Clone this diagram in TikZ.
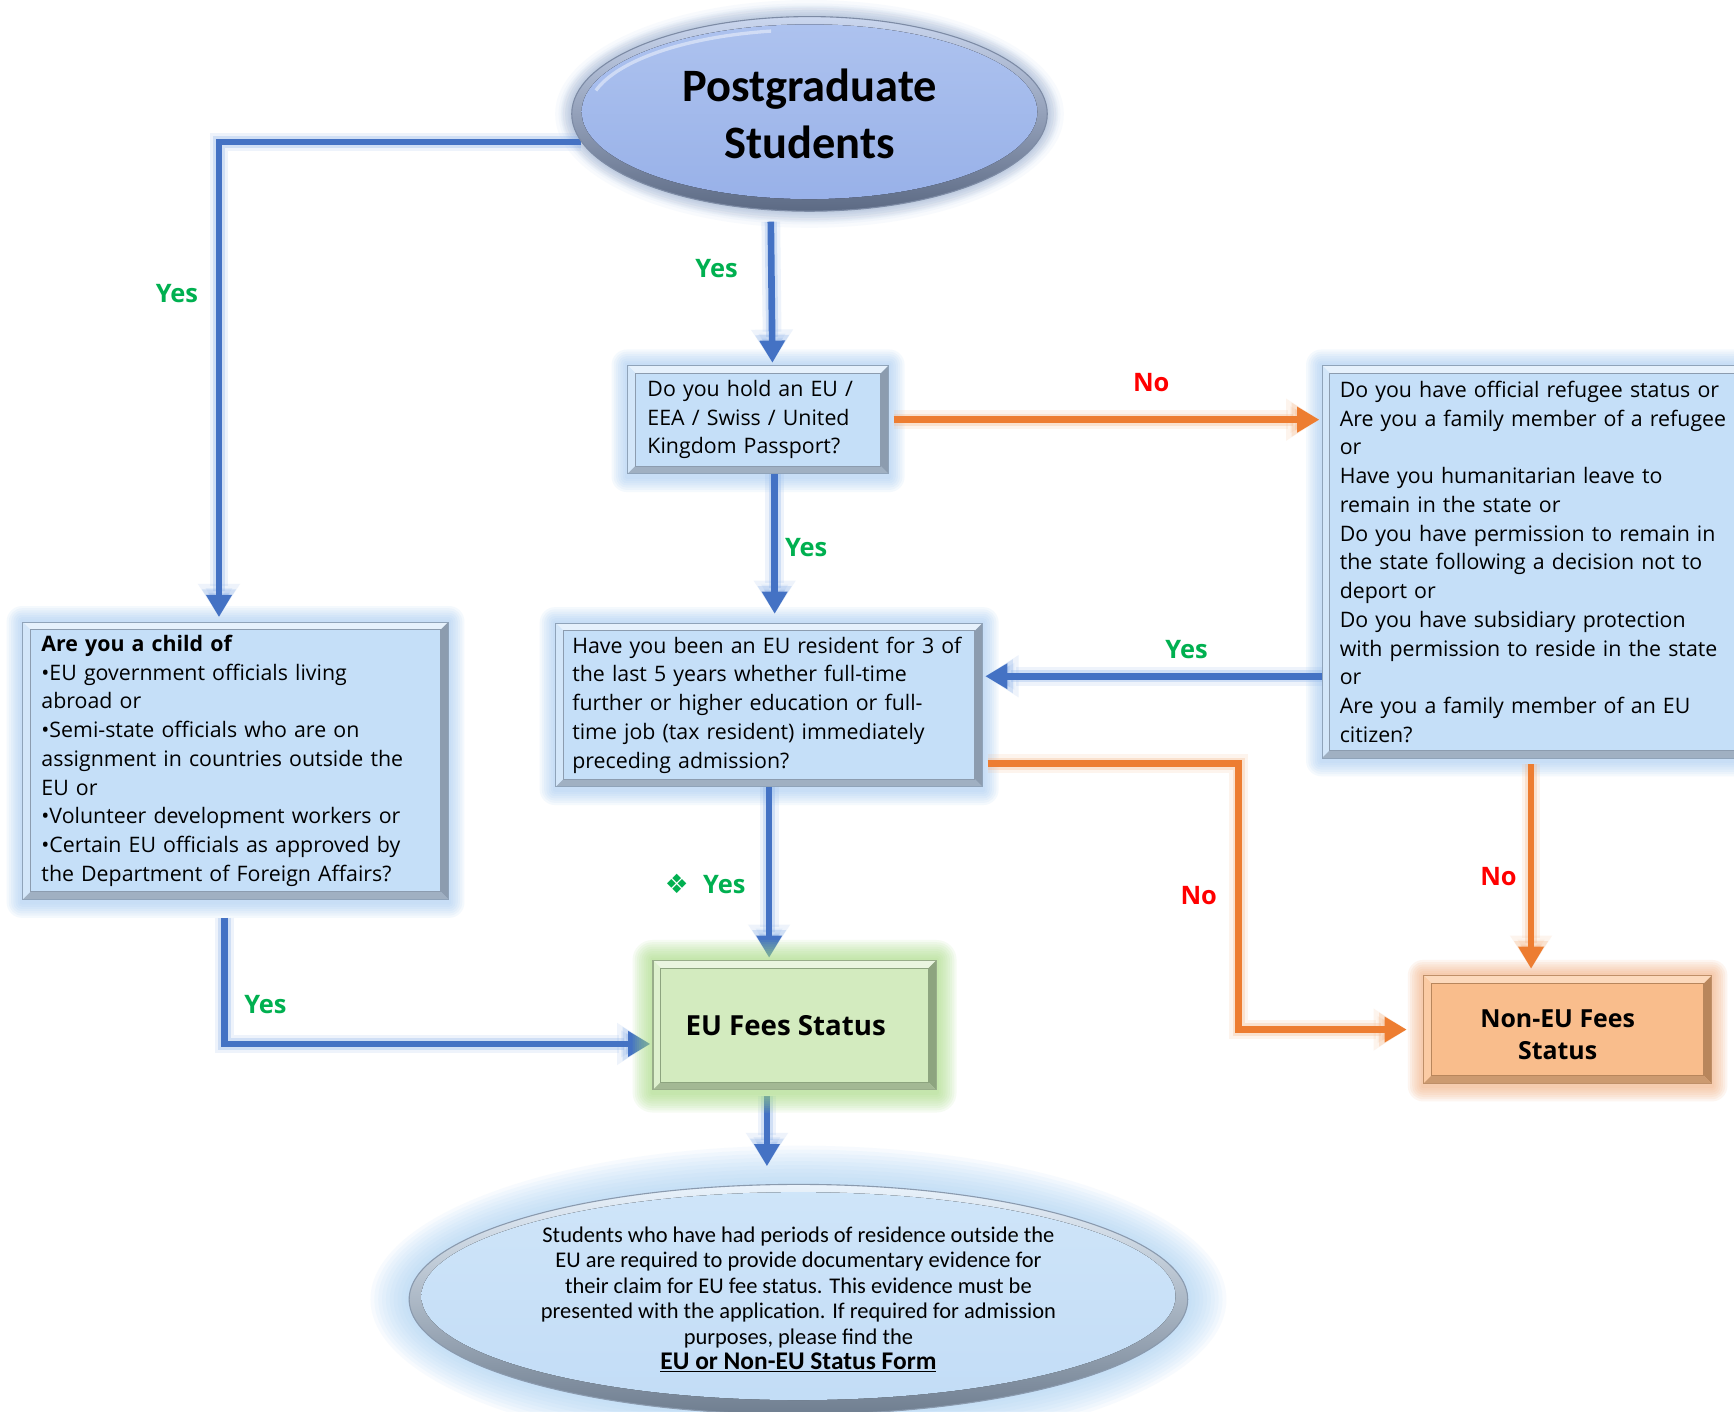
\documentclass[tikz,border=0pt]{standalone}
\usepackage{fontspec}
\setmainfont{Open Sans}
\newfontfamily\titlefont{Carlito}
\newfontfamily\symfont{DejaVu Sans}
\usetikzlibrary{shapes.geometric,arrows.meta,calc}
\pgfdeclarelayer{bg}\pgfdeclarelayer{arrowlayer}\pgfdeclarelayer{glowlayer}
\pgfsetlayers{bg,arrowlayer,glowlayer,main}

\definecolor{arrowblue}{HTML}{4472C4}
\definecolor{glowblue}{HTML}{8DB3EA}
\definecolor{arroworange}{HTML}{ED7D31}
\definecolor{gloworange}{HTML}{F6B98C}
\definecolor{yesgreen}{HTML}{00B050}
\definecolor{nored}{HTML}{FF0000}
\definecolor{boxface}{HTML}{C5DFF8}
\definecolor{boxlight}{HTML}{E6F1FC}
\definecolor{boxmid}{HTML}{D3E6F9}
\definecolor{boxdark}{HTML}{8C9CAF}
\definecolor{boxdarkb}{HTML}{A0B0C2}
\definecolor{boxedge}{HTML}{8FA3B9}
\definecolor{boxglow}{HTML}{9CC6F2}
\definecolor{euface}{HTML}{D3EBBF}
\definecolor{eulight}{HTML}{EAF5E0}
\definecolor{eumid}{HTML}{DDF0CE}
\definecolor{eudark}{HTML}{8DA47F}
\definecolor{eudarkb}{HTML}{A3B894}
\definecolor{euedge}{HTML}{98AD8A}
\definecolor{euglow}{HTML}{A6DC80}
\definecolor{nface}{HTML}{F9BD8C}
\definecolor{nlight}{HTML}{FCD9BC}
\definecolor{nmid}{HTML}{FBCBA4}
\definecolor{ndark}{HTML}{B8865C}
\definecolor{ndarkb}{HTML}{CC9A70}
\definecolor{nedge}{HTML}{BF8F68}
\definecolor{nglow}{HTML}{F2A46C}
\definecolor{ellTop}{HTML}{CBD7EF}
\definecolor{ellBot}{HTML}{5C6A84}
\definecolor{ellEdge}{HTML}{7D8BA5}
\definecolor{innerTop}{HTML}{AEC3EF}
\definecolor{innerBot}{HTML}{97B0E8}
\definecolor{bellTop}{HTML}{EAF3FC}
\definecolor{bellBot}{HTML}{6F7E90}
\definecolor{bellEdge}{HTML}{8A9AAE}
\definecolor{binTop}{HTML}{CFE5F9}
\definecolor{binBot}{HTML}{C2DCF6}
\definecolor{bellglow}{HTML}{A9D1F6}

\newcommand{\bevelfacets}[4]{%
  \coordinate (bNW) at (path picture bounding box.north west);
  \coordinate (bNE) at (path picture bounding box.north east);
  \coordinate (bSW) at (path picture bounding box.south west);
  \coordinate (bSE) at (path picture bounding box.south east);
  \fill[#1] (bNW) -- (bNE) -- ([shift={(-7pt,-7pt)}]bNE) -- ([shift={(7pt,-7pt)}]bNW) -- cycle;
  \fill[#2] (bNW) -- (bSW) -- ([shift={(7pt,7pt)}]bSW) -- ([shift={(7pt,-7pt)}]bNW) -- cycle;
  \fill[#3] (bNE) -- (bSE) -- ([shift={(-7pt,7pt)}]bSE) -- ([shift={(-7pt,-7pt)}]bNE) -- cycle;
  \fill[#4] (bSW) -- (bSE) -- ([shift={(-7pt,7pt)}]bSE) -- ([shift={(7pt,7pt)}]bSW) -- cycle;
  \draw[#3, line width=0.8pt] ([shift={(7pt,-7pt)}]bNW) rectangle ([shift={(-7pt,7pt)}]bSE);
}
\newcommand{\boxglow}[3]{%
  \foreach \g in {1,...,#3}{%
    \pgfmathsetmacro{\gd}{2*\g}
    \fill[#2, opacity=0.10, rounded corners=\gd pt] ([shift={(-\gd pt,\gd pt)}]#1.north west) rectangle ([shift={(\gd pt,-\gd pt-2pt)}]#1.south east);
  }}
\newcommand{\ellglow}[7]{%
  \foreach \g in {1,...,#5}{%
    \pgfmathsetmacro{\gd}{#7*\g}
    \fill[#2, opacity=#6] (#1.center) ellipse [x radius=#3pt+\gd pt, y radius=#4pt+\gd pt];
  }}

\tikzset{
  qbox/.style={rectangle, anchor=north west, fill=boxface, draw=boxedge, line width=1pt,
    inner ysep=0pt, align=left, font=\fontsize{19.3}{26}\selectfont,
    path picture={\bevelfacets{boxlight}{boxmid}{boxdark}{boxdarkb}}},
  eubox/.style={rectangle, anchor=north west, fill=euface, draw=euedge, line width=1pt,
    inner sep=0pt, align=center, font=\bfseries\fontsize{25}{30}\selectfont,
    path picture={\bevelfacets{eulight}{eumid}{eudark}{eudarkb}}},
  nbox/.style={rectangle, anchor=north west, fill=nface, draw=nedge, line width=1pt,
    inner sep=0pt, align=center, font=\bfseries\fontsize{22.5}{29}\selectfont,
    path picture={\bevelfacets{nlight}{nmid}{ndark}{ndarkb}}},
  topell/.style={ellipse, minimum width=430pt, minimum height=176pt, inner sep=0pt,
    draw=ellEdge, line width=1pt, top color=ellTop, bottom color=ellBot, align=center,
    font=\titlefont\bfseries\fontsize{42}{52}\selectfont,
    path picture={\fill[top color=innerTop, bottom color=innerBot] ([yshift=2pt]path picture bounding box.center) ellipse [x radius=206pt, y radius=79pt];
      \draw[white, opacity=0.45, line width=3pt] ([shift={(-34.7pt,74.9pt)}]path picture bounding box.center) arc [start angle=100, end angle=165, x radius=200pt, y radius=74pt];}},
  botell/.style={ellipse, minimum width=704pt, minimum height=208pt, inner sep=0pt,
    draw=bellEdge, line width=1pt, top color=bellTop, bottom color=bellBot, align=center,
    font=\titlefont\fontsize{20.3}{23}\selectfont,
    path picture={\fill[top color=binTop, bottom color=binBot] ([yshift=3pt]path picture bounding box.center) ellipse [x radius=341pt, y radius=94pt];}},
  yeslab/.style={text=yesgreen, font=\bfseries\fontsize{23}{26}\selectfont, inner sep=0pt},
  nolab/.style={text=nored, font=\bfseries\fontsize{23}{26}\selectfont, inner sep=0pt},
  barrow/.style={draw=arrowblue, line width=6pt, -{Triangle[width=22pt,length=20pt]},
    preaction={draw=glowblue, line width=17pt, opacity=0.15, -{Triangle[width=36pt,length=30pt]}},
    preaction={draw=glowblue, line width=11pt, opacity=0.3, -{Triangle[width=29pt,length=25pt]}}},
  oarrow/.style={draw=arroworange, line width=6pt, -{Triangle[width=22pt,length=20pt]},
    preaction={draw=gloworange, line width=17pt, opacity=0.15, -{Triangle[width=36pt,length=30pt]}},
    preaction={draw=gloworange, line width=11pt, opacity=0.3, -{Triangle[width=29pt,length=25pt]}}},
}

\begin{document}
\begin{tikzpicture}[x=1pt,y=-1pt]
\useasboundingbox (0,0) rectangle (1568,1276);

% nodes
\node[topell] (top) at (732,103) {Postgraduate\\Students};
\node[qbox, inner xsep=18pt, text width=200pt, minimum height=98pt] (box1) at (567,330)
  {Do you hold an EU /\\EEA / Swiss / United\\Kingdom Passport?};
\node[qbox, inner xsep=16pt, text width=372pt, minimum height=355pt] (ref) at (1195,330)
  {Do you have official refugee status or\\Are you a family member of a refugee\\or\\Have you humanitarian leave to\\remain in the state or\\Do you have permission to remain in\\the state following a decision not to\\deport or\\Do you have subsidiary protection\\with permission to reside in the state\\or\\Are you a family member of an EU\\citizen?};
\node[qbox, inner xsep=17pt, text width=351pt, minimum height=251pt] (child) at (20,562)
  {\textbf{Are you a child of}\\\textbullet EU government officials living\\abroad or\\\textbullet Semi-state officials who are on\\assignment in countries outside the\\EU or\\\textbullet Volunteer development workers or\\\textbullet Certain EU officials as approved by\\the Department of Foreign Affairs?};
\node[qbox, inner xsep=15pt, text width=356pt, minimum height=148pt] (res) at (502,563)
  {Have you been an EU resident for 3 of\\the last 5 years whether full-time\\further or higher education or full-\\time job (tax resident) immediately\\preceding admission?};
\node[eubox, minimum width=256pt, minimum height=117pt] (eu) at (590,868) {EU Fees Status\kern16pt};
\node[nbox, minimum width=260pt, minimum height=97pt] (noneu) at (1287,882)
  {\raisebox{-7pt}[\height][\depth]{\begin{tabular}{@{}c@{}}Non-EU Fees\\Status\end{tabular}}\kern18pt};
\node[botell] (bot) at (722,1175)
  {Students who have had periods of residence outside the\\EU are required to provide documentary evidence for\\their claim for EU fee status. This evidence must be\\presented with the application. If required for admission\\purposes, please find the\\{\bfseries\fontsize{23}{23}\selectfont\underline{EU or Non-EU Status Form}}};

% labels
\node[yeslab] (l1) at (160,265) {Yes};
\node[yeslab] (l2) at (648,243) {Yes};
\node[nolab]  (l3) at (1041,346) {No};
\node[yeslab] (l4) at (729,495) {Yes};
\node[yeslab] (l5) at (1073,587) {Yes};
\node[nolab]  (l6) at (1084,810) {No};
\node[nolab]  (l7) at (1355,793) {No};
\node[yeslab] (l8) at (655,800) {Yes};
\node[text=yesgreen, font=\symfont\fontsize{24}{26}\selectfont, inner sep=0pt] (l8s) at (612,799) {❖};
\node[yeslab] (l9) at (240,908) {Yes};

% glows and shadows
\begin{pgfonlayer}{bg}
  \fill[white] (0,0) rectangle (1568,1276);
  \ellglow{top}{ellBot}{213}{86}{6}{0.05}{2}
  \ellglow{top}{glowblue}{215}{88}{5}{0.06}{3}
  \ellglow{bot}{bellglow}{352}{104}{10}{0.09}{3.5}
  \boxglow{box1}{boxglow}{7}
  \boxglow{ref}{boxglow}{7}
  \boxglow{child}{boxglow}{7}
  \boxglow{res}{boxglow}{7}
  \boxglow{noneu}{nglow}{7}
\end{pgfonlayer}
\begin{pgfonlayer}{glowlayer}
  \boxglow{eu}{euglow}{9}
\end{pgfonlayer}

% connectors
\begin{pgfonlayer}{arrowlayer}
  \draw[barrow, shorten >=4pt] (top.187) -| ([xshift=-15pt]child.north);
  \draw[barrow, shorten >=2pt] ([xshift=-35pt,yshift=-9pt]top.south) -- ([xshift=13pt]box1.north);
  \draw[oarrow, shorten >=2pt] ([xshift=4pt]box1.east) -- (box1.east -| ref.west);
  \draw[barrow, shorten >=8pt] ([xshift=15pt]box1.south) -- ([xshift=15pt]box1.south |- res.north);
  \coordinate (r5) at ([yshift=26pt]res.east);
  \draw[barrow, shorten >=2pt] (r5 -| ref.west) -- (r5);
  \draw[oarrow, shorten >=15pt] ([xshift=4pt,yshift=-53pt]res.east) -- ++(227pt,0) |- (noneu.west);
  \coordinate (n7) at ([xshift=-33pt]noneu.north);
  \draw[oarrow, shorten >=6pt] ([yshift=-5pt]n7 |- ref.south) -- (n7);
  \draw[barrow, shorten >=2pt] (res.south) -- (res.south |- eu.north);
  \draw[barrow, shorten >=2pt] ([xshift=-10pt,yshift=-16pt]child.south) |- ([yshift=-17pt]eu.west);
  \coordinate (e10) at ([xshift=-25pt,yshift=-5pt]eu.south);
  \draw[barrow, shorten >=16pt] (e10) -- (e10 |- bot.north);
\end{pgfonlayer}
\end{tikzpicture}
\end{document}
